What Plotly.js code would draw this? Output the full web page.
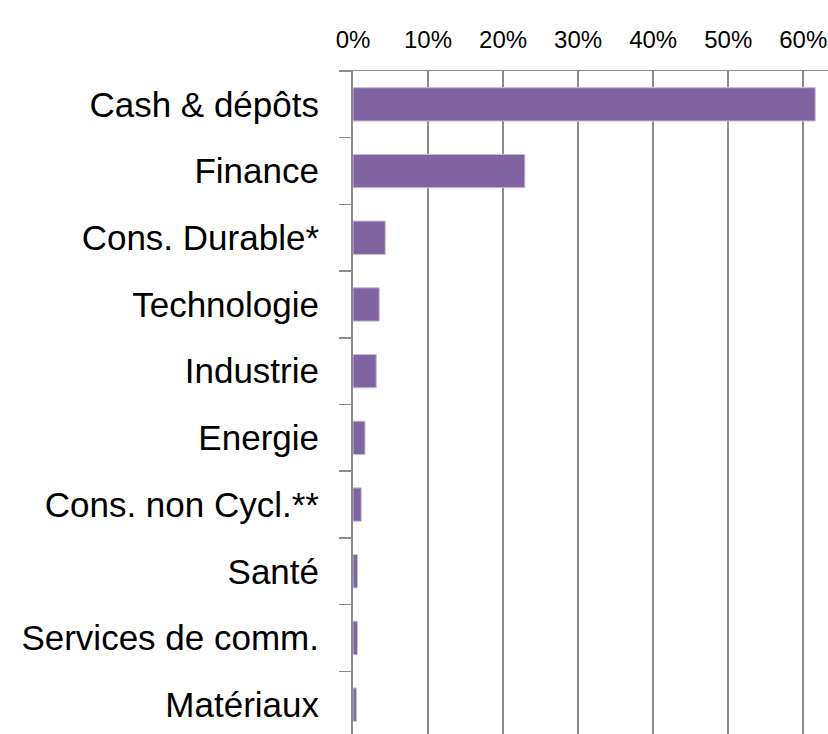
<!DOCTYPE html>
<html>
<head>
<meta charset="utf-8">
<script src="https://cdn.plot.ly/plotly-3.0.1.min.js"></script>
<style>
  html, body { margin: 0; padding: 0; background: #fff; overflow: hidden; }
  #graph-output { width: 828px; height: 740px; }
</style>
</head>
<body>
<div id="graph-output"></div>
<script>
// Répartition par secteur (en % du portefeuille)
const secteurs = [
    "Cash & dépôts",
    "Finance",
    "Cons. Durable*",
    "Technologie",
    "Industrie",
    "Energie",
    "Cons. non Cycl.**",
    "Santé",
    "Services de comm.",
    "Matériaux"
];
const poids = [61.6, 22.9, 4.3, 3.5, 3.1, 1.6, 1.1, 0.6, 0.6, 0.45];
const ticksPct = [0, 10, 20, 30, 40, 50, 60];
const ticksTexte = ticksPct.map(v => v + "%");

var traceBarres = {
    type: 'bar',
    orientation: 'h',
    x: poids,
    y: secteurs,
    marker: { color: '#8064A2', line: { color: '#C9BCDC', width: 1 } },
    hoverinfo: 'skip'
};

var layout = {
    width: 828,
    height: 740,
    margin: { l: 353, r: 0, t: 71, b: 2 },
    paper_bgcolor: '#ffffff',
    plot_bgcolor: '#ffffff',
    font: { family: 'Liberation Sans, Arial, sans-serif', color: '#000000' },
    showlegend: false,
    bargap: 0.5,
    xaxis: {
        side: 'top',
        range: [0, 63.3],
        tickmode: 'array',
        tickvals: ticksPct,
        ticktext: ticksTexte,
        tickfont: { size: 24 },
        ticks: '',
        showgrid: true,
        gridcolor: '#8c8c8c',
        gridwidth: 1.5,
        zeroline: false,
        showline: true,
        linecolor: '#8c8c8c',
        linewidth: 1.5,
        ticklabelstandoff: 12,
        fixedrange: true
    },
    yaxis: {
        type: 'category',
        categoryorder: 'array',
        categoryarray: secteurs,
        autorange: 'reversed',
        tickfont: { size: 35 },
        ticks: 'outside',
        tickson: 'boundaries',
        ticklen: 12,
        tickwidth: 1.5,
        tickcolor: '#8c8c8c',
        showgrid: false,
        showline: true,
        linecolor: '#8c8c8c',
        linewidth: 2,
        ticklabelstandoff: 25,
        fixedrange: true
    }
};

Plotly.newPlot('graph-output', [traceBarres], layout, { displayModeBar: false, staticPlot: true });
</script>
</body>
</html>
